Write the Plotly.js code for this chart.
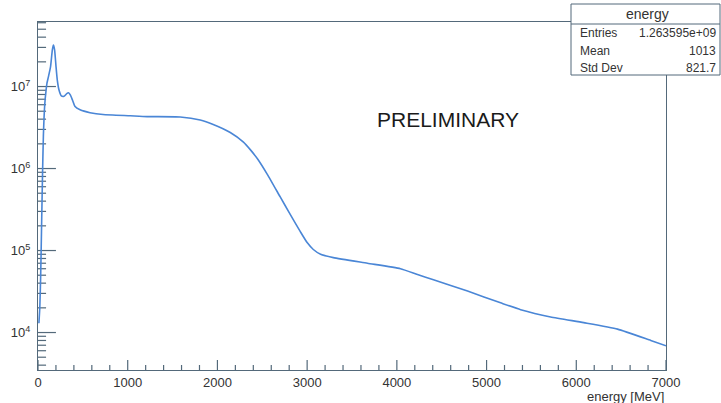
<!DOCTYPE html>
<html>
<head>
<meta charset="utf-8">
<script src="https://cdn.plot.ly/plotly-3.0.1.min.js"></script>
<style>html,body{margin:0;padding:0;background:#fff;}#chart{width:721px;height:403px;}</style>
</head>
<body>
<div id="chart"></div>
<script>
// Data (energy in MeV, counts)
const energy = [10,20,30,40,50,60,75,90,100,115,140,160,172,185,200,215,235,260,290,320,340,360,385,413,469,580,725,1027,1217,1585,1808,1953,2143,2290,2366,2450,2556,2700,2800,2924,3000,3069,3150,3292,3672,4040,4230,4408,4788,5156,5380,5714,6083,6460,6830,7000];
const counts = [1.3e4,2e4,5e4,2e5,8e5,2.5e6,6e6,9e6,1.1e7,1.3e7,1.75e7,2.8e7,3.2e7,2.8e7,1.8e7,1.2e7,9e6,7.7e6,7.6e6,8.2e6,8.4e6,7.9e6,6.8e6,5.7e6,5.2e6,4.8e6,4.55e6,4.4e6,4.3e6,4.25e6,3.9e6,3.44e6,2.75e6,2.1e6,1.7e6,1.3e6,8.5e5,4.5e5,2.9e5,1.7e5,1.25e5,1.03e5,9e4,8.2e4,7e4,6e4,5.1e4,4.4e4,3.2e4,2.3e4,1.9e4,1.55e4,1.32e4,1.1e4,8e3,6.9e3];

const xTickVals = [0,1000,2000,3000,4000,5000,6000,7000];
const xTickText = ["0","1000","2000","3000","4000","5000","6000","7000"];
const xMinorVals = [200,400,600,800,1200,1400,1600,1800,2200,2400,2600,2800,3200,3400,3600,3800,4200,4400,4600,4800,5200,5400,5600,5800,6200,6400,6600,6800];
const yTickVals = [1e4,1e5,1e6,1e7];
const yTickText = ["10<sup>4</sup>","10<sup>5</sup>","10<sup>6</sup>","10<sup>7</sup>"];
const yMinorVals = [4e3,5e3,6e3,7e3,8e3,9e3,2e4,3e4,4e4,5e4,6e4,7e4,8e4,9e4,2e5,3e5,4e5,5e5,6e5,7e5,8e5,9e5,2e6,3e6,4e6,5e6,6e6,7e6,8e6,9e6,2e7,3e7,4e7,5e7,6e7];

const statsTitle = "energy";
const statsLabels = ["Entries","Mean","Std Dev"];
const statsValues = ["1.263595e+09","1013","821.7"];
const xTitle = "energy [MeV]";

const font = "Liberation Sans, Arial, Helvetica, sans-serif";
const axisColor = "#53697a";
const textColor = "#333";

const L = 38, R = 666, T = 22, B = 370;
const W = R - L, H = B - T;
const px = x => (x - L) / W;
const py = y => (B - y) / H;
const yRange = [3.543, 7.787];

const trace = {
  x: energy, y: counts, type: "scatter", mode: "lines",
  line: {color: "#4a86d6", width: 1.6, shape: "spline", smoothing: 0.5},
  hoverinfo: "skip"
};

const annotations = [
  {text: "PRELIMINARY", xref: "paper", yref: "paper", x: px(448), y: py(119), showarrow: false,
   font: {family: font, size: 21, color: "#1a1a1a"}, xanchor: "center", yanchor: "middle"},
  {text: statsTitle, xref: "paper", yref: "paper", x: px(647), y: py(14), showarrow: false,
   font: {family: font, size: 14, color: textColor}, xanchor: "center", yanchor: "middle"},
  {text: xTitle, xref: "paper", yref: "paper", x: px(666), y: py(396), showarrow: false,
   font: {family: font, size: 13, color: textColor}, xanchor: "right", yanchor: "middle"}
];
const rowY = [33, 51, 68];
statsLabels.forEach((lab, i) => {
  annotations.push({text: lab, xref: "paper", yref: "paper", x: px(578), y: py(rowY[i]), showarrow: false,
    font: {family: font, size: 12, color: textColor}, xanchor: "left", yanchor: "middle"});
  annotations.push({text: statsValues[i], xref: "paper", yref: "paper", x: px(718), y: py(rowY[i]), showarrow: false,
    font: {family: font, size: 12, color: textColor}, xanchor: "right", yanchor: "middle"});
});

// y-axis ticks drawn as a thin trace through the library's own log scale
const tickX = [], tickY = [];
[[yTickVals, 200], [yMinorVals, 90]].forEach(([vals, len]) => {
  vals.forEach(v => { tickX.push(0, len, null); tickY.push(v, v, null); });
});
const yTickTrace = {
  x: tickX, y: tickY, type: "scatter", mode: "lines", connectgaps: false,
  line: {color: axisColor, width: 1.2}, hoverinfo: "skip", cliponaxis: false
};

// x-axis ticks (ROOT style, inside)
const tickLine = {color: axisColor, width: 1.2};
const shapes = [];
xTickVals.forEach(v => shapes.push({type: "line", xref: "x", yref: "paper", x0: v, x1: v, y0: 0, y1: 10 / H, line: tickLine, layer: "above"}));
xMinorVals.forEach(v => shapes.push({type: "line", xref: "x", yref: "paper", x0: v, x1: v, y0: 0, y1: 5 / H, line: tickLine, layer: "above"}));
// stats box
shapes.push({type: "rect", xref: "paper", yref: "paper", x0: px(571), x1: px(720), y0: py(75), y1: py(4),
   line: {color: axisColor, width: 1}, fillcolor: "#fff", layer: "above"});
shapes.push({type: "line", xref: "paper", yref: "paper", x0: px(571), x1: px(720), y0: py(24), y1: py(24),
   line: {color: axisColor, width: 1}, layer: "above"});

const layout = {
  width: 721, height: 403,
  margin: {l: L, r: 721 - R, t: T, b: 403 - B, pad: 0},
  paper_bgcolor: "#fff", plot_bgcolor: "#fff",
  showlegend: false,
  xaxis: {
    range: [0, 7000], showgrid: false, zeroline: false,
    showline: true, mirror: true, linecolor: axisColor, linewidth: 1,
    tickmode: "array", tickvals: xTickVals, ticktext: xTickText,
    ticks: "",
    tickfont: {family: font, size: 13, color: textColor}
  },
  yaxis: {
    type: "log", range: yRange, showgrid: false, zeroline: false,
    showline: true, mirror: true, linecolor: axisColor, linewidth: 1,
    tickmode: "array", tickvals: yTickVals, ticktext: yTickText,
    ticks: "", ticklabelstandoff: 4,
    tickfont: {family: font, size: 13, color: textColor}
  },
  annotations: annotations,
  shapes: shapes
};

Plotly.newPlot("chart", [yTickTrace, trace], layout, {displayModeBar: false, staticPlot: true});
</script>
</body>
</html>
